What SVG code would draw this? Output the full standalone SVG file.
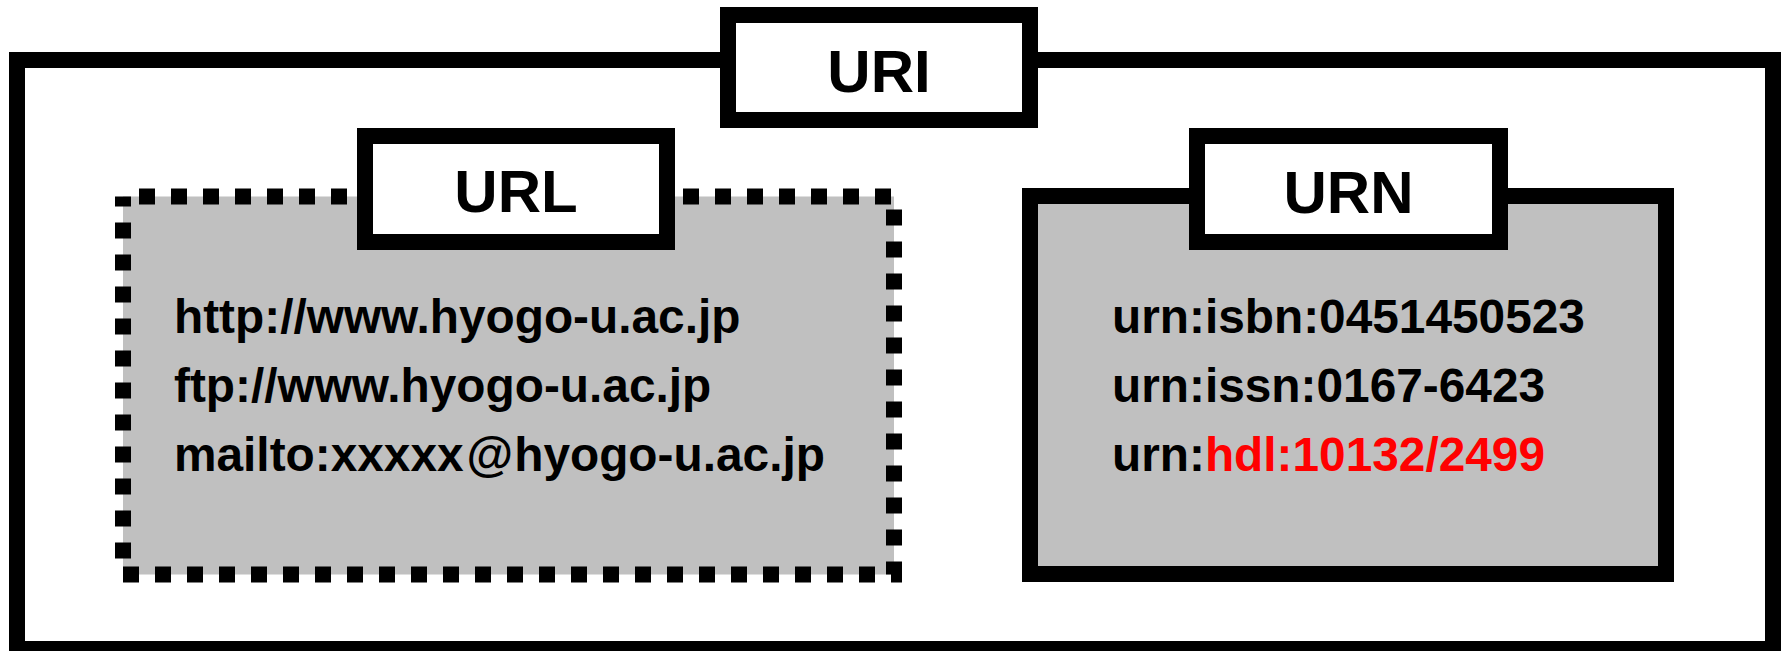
<svg xmlns="http://www.w3.org/2000/svg" width="1781" height="651" viewBox="0 0 1781 651">
  <style>
    .frame { fill: none; stroke: #000; stroke-width: 16; }
    .panel { fill: #c0c0c0; stroke: #000; stroke-width: 16; }
    .dotted { stroke-dasharray: 16 16; stroke-dashoffset: 16; }
    .tag { fill: #fff; stroke: #000; stroke-width: 16; }
    .title { font-family: "Liberation Sans", Arial, sans-serif; font-weight: bold; font-size: 60px; text-anchor: middle; fill: #000; }
    .item { font-family: "Liberation Sans", Arial, sans-serif; font-weight: bold; font-size: 47.8px; fill: #000; }
    .hl { fill: #ff0000; }
  </style>
  <rect x="0" y="0" width="1781" height="651" fill="#fff"/>

  <!-- outer URI container -->
  <g id="uri">
    <rect class="frame" x="17" y="60" width="1756" height="589"/>
    <rect class="tag" x="728" y="15" width="302" height="105"/>
    <text class="title" x="879" y="92">URI</text>
  </g>

  <!-- URL group: dotted frame -->
  <g id="url">
    <rect class="panel dotted" x="123" y="196.5" width="771" height="378"/>
    <rect class="tag" x="365" y="136" width="302" height="106"/>
    <text class="title" x="516" y="212">URL</text>
    <text class="item" x="174" y="333">http://www.hyogo-u.ac.jp</text>
    <text class="item" x="174" y="402">ftp://www.hyogo-u.ac.jp</text>
    <text class="item" x="174" y="471">mailto:xxxxx<tspan dx="3">@</tspan><tspan dx="1">hyogo-u.ac.jp</tspan></text>
  </g>

  <!-- URN group: solid frame -->
  <g id="urn">
    <rect class="panel" x="1030" y="196" width="636" height="378"/>
    <rect class="tag" x="1197" y="136" width="303" height="106"/>
    <text class="title" x="1348.5" y="213">URN</text>
    <text class="item" x="1112" y="333">urn:isbn:0451450523</text>
    <text class="item" x="1112" y="402">urn:issn:0167-6423</text>
    <text class="item" x="1112" y="471">urn:<tspan class="hl">hdl:10132/2499</tspan></text>
  </g>
</svg>
